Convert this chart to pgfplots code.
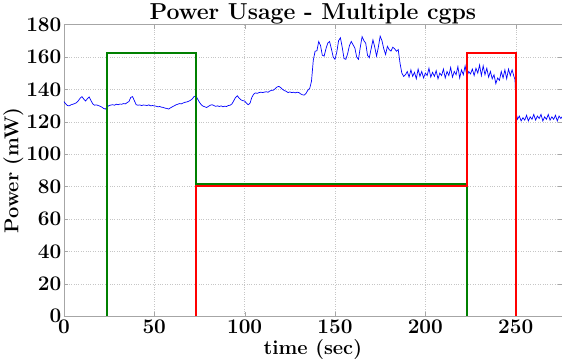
\documentclass[border=0pt]{standalone}
\usepackage{pgfplots}
\pgfplotsset{compat=1.18}
\begin{document}
\begin{tikzpicture}
\begin{axis}[
  scale only axis,
  width=495bp, height=290bp,
  xmin=0, xmax=275.5, ymin=0, ymax=180,
  xtick={0,50,100,150,200,250},
  ytick={0,20,40,60,80,100,120,140,160,180},
  grid=major,
  grid style={dotted, gray!45},
  axis line style={gray!70},
  tick style={gray!70, major tick length=4pt},
  tick align=inside,
  tick label style={font=\fontsize{19.5}{22}\selectfont\bfseries\boldmath},
  xticklabel style={yshift=0pt},
  yticklabel style={xshift=1pt},
  title={Power Usage - Multiple cgps},
  title style={font=\fontsize{23}{27}\selectfont\bfseries, yshift=-9pt},
  xlabel={time (sec)},
  ylabel={Power (mW)},
  label style={font=\fontsize{20}{24}\selectfont\bfseries},
  xlabel style={yshift=1pt},
  ylabel style={yshift=-4pt},
]
\addplot[blue, line width=0.7pt] coordinates {
(0,132.5)(1,131)(2,130)(3,129.8)(4,130.5)(5,130.8)(6,131.2)(7,131.8)(8,133)(9,134.5)
(10,135.5)(11,134)(12,132.8)(13,134.2)(14,135.3)(15,133)(16,131)(17,130.2)(18,130.4)(19,130)
(20,129.6)(21,129)(22,128.2)(23,127.8)(24,129.2)(25,130)(26,130.3)(27,130.5)(28,130.2)(29,130.8)
(30,130.5)(31,130.9)(32,130.8)(33,131.2)(34,131)(35,131.8)(36,132.5)(37,135)(38,135.5)(39,133)
(40,130.5)(41,130.2)(42,130.4)(43,130)(44,130.3)(45,130.2)(46,130)(47,130.4)(48,129.8)(49,130)
(50,129.8)(51,129.6)(52,129.2)(53,129.4)(54,129)(55,128.8)(56,128.4)(57,128.2)(58,127.8)(59,128.6)
(60,129.2)(61,129.8)(62,130.4)(63,130.8)(64,131.2)(65,131)(66,131.6)(67,132)(68,132.2)(69,132.6)
(70,133.2)(71,134)(72,135.5)(73,136)(74,134)(75,132)(76,130.5)(77,129.6)(78,129.2)(79,128.8)
(80,129.5)(81,130.2)(82,130.5)(83,130)(84,129.5)(85,129.8)(86,129.4)(87,129.8)(88,129.2)(89,129.6)
(90,129.4)(91,130)(92,130.2)(93,131)(94,133)(95,135)(96,136)(97,134.5)(98,133.5)(99,133)
(100,132.8)(101,131.5)(102,130.5)(103,131.5)(104,135)(105,137)(106,137.8)(107,137.5)(108,138)(109,138.2)
(110,138)(111,138.3)(112,138.5)(113,138.2)(114,139)(115,139.4)(116,139.5)(117,140.5)(118,141.5)(119,141.8)
(120,141)(121,140)(122,139.2)(123,138.8)(124,138)(125,138.4)(126,138)(127,138.2)(128,137.8)(129,138.2)
(130,138)(131,137.2)(132,136.6)(133,136.5)(134,137.5)(135,139.5)(136,140.5)(137,145)(138,158)(139,163.5)
(140,163.8)(141,169.5)(142,167)(143,161)(144,160.5)(145,165)(146,168.5)(147,169.5)(148,165)(149,160)
(150,158.5)(151,163)(152,170)(153,171.8)(154,166)(155,159)(156,158.5)(157,162)(158,167)(159,169.5)
(160,167.5)(161,165.5)(162,160)(163,158.5)(164,166)(165,172.5)(166,170)(167,168.5)(168,161)(169,159.5)
(170,165)(171,170.5)(172,166)(173,160.5)(174,166)(175,172.8)(176,170)(177,165)(178,161.5)(179,166.5)
(180,164.5)(181,163.6)(182,166)(183,165)(184,163.5)(185,164.5)(186,156)(187,150)(188,148)(189,149)
(190,151)(191,147.5)(192,152)(193,148)(194,150.5)(195,146.5)(196,152.5)(197,148)(198,151)(199,147)
(200,150)(201,148.5)(202,153)(203,147.5)(204,150.5)(205,148)(206,151.5)(207,146.5)(208,150)(209,148.5)
(210,152.5)(211,147)(212,151)(213,148.5)(214,153.5)(215,147.5)(216,151)(217,149)(218,154)(219,147)
(220,152)(221,149)(222,154.5)(223,148)(224,151)(225,149.5)(226,152.5)(227,148.5)(228,153)(229,150)
(230,155)(231,148.5)(232,154.5)(233,149)(234,153)(235,147.5)(236,151)(237,146.5)(238,149)(239,143.5)
(240,147)(241,145.5)(242,151)(243,147)(244,152)(245,146.5)(246,152.5)(247,148.5)(248,152)(249,148)
(249.6,146)(250,135)(250.5,124)(251,121.5)(252,123.5)(253,120.5)(254,122.5)(255,121)(256,124)(257,120.5)
(258,123)(259,121.5)(260,124.5)(261,121)(262,123.5)(263,122)(264,124.5)(265,120.5)(266,123)(267,121.5)
(268,124.5)(269,121)(270,123)(271,121.5)(272,124)(273,120.5)(274,123.5)(275,122)(275.5,123)
};
\addplot[color={rgb,255:red,0;green,128;blue,0}, line width=2pt] coordinates {
(24,0)(24,162.5)(73,162.5)(73,81.3)(223,81.3)(223,0)
};
\addplot[color={rgb,255:red,255;green,0;blue,0}, line width=2pt] coordinates {
(73,0)(73,80.1)(223,80.1)(223,162.5)(250,162.5)(250,0)
};
\end{axis}
\end{tikzpicture}
\end{document}
